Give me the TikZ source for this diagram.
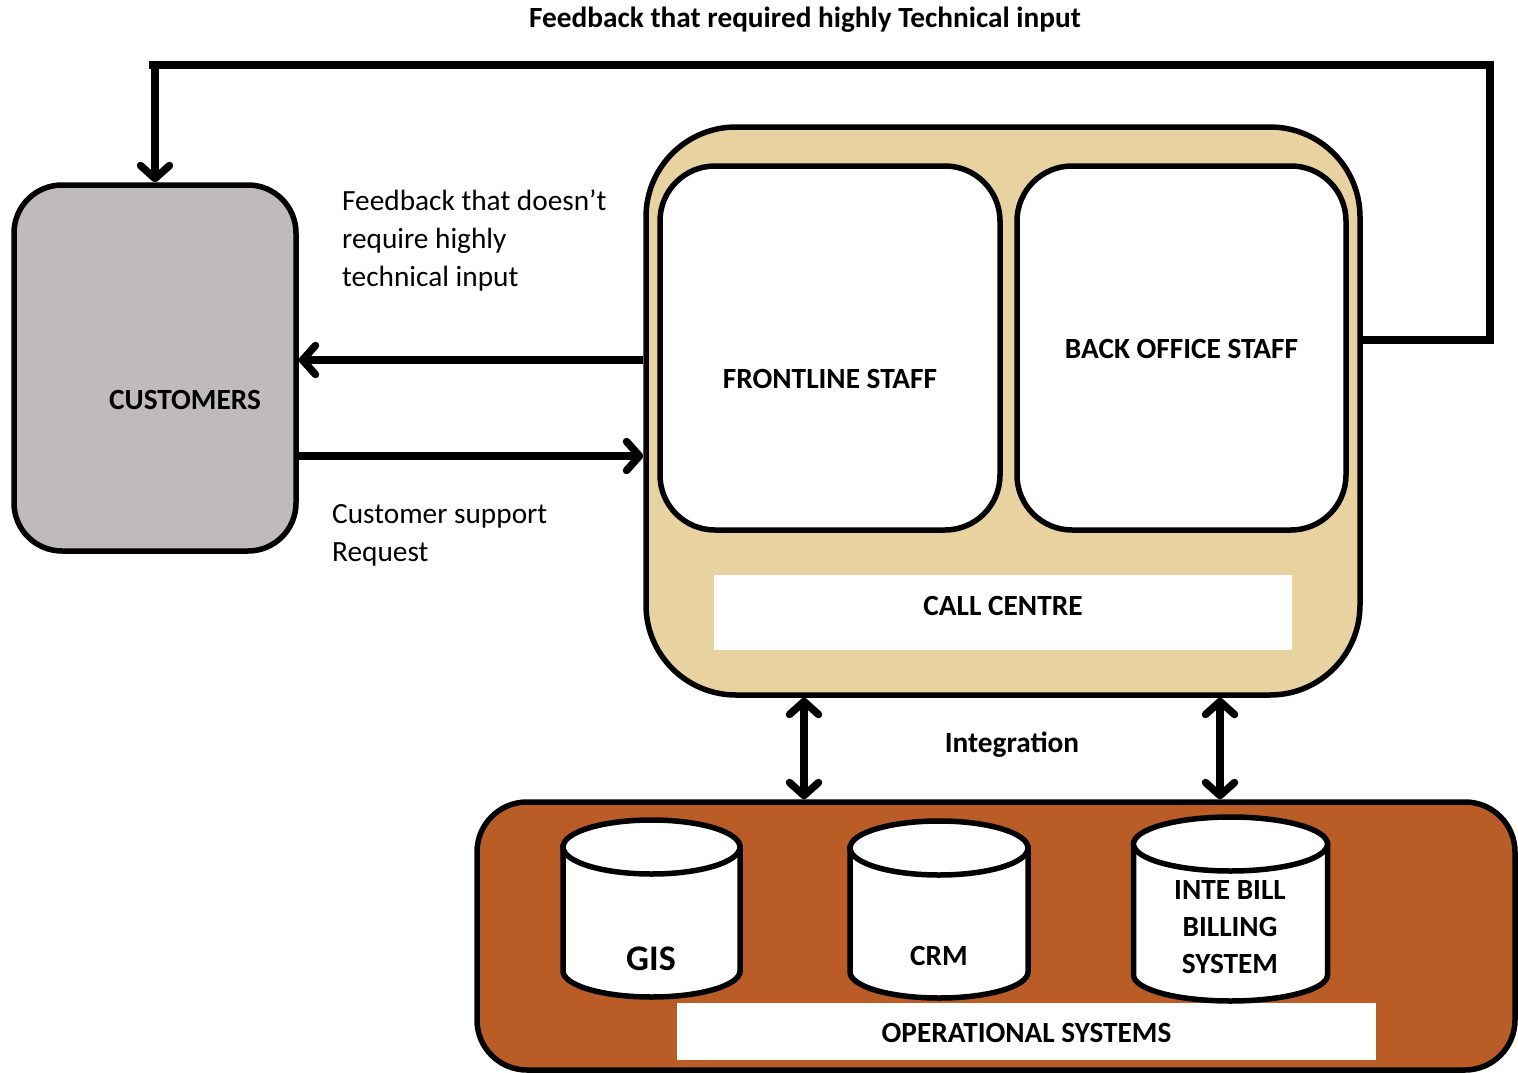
\documentclass[tikz,border=0pt]{standalone}
\usepackage{fontspec}
\setmainfont{Carlito}
\usetikzlibrary{arrows.meta}
\definecolor{custgray}{HTML}{C0BBBA}
\definecolor{cctan}{HTML}{E8D3A0}
\definecolor{rust}{HTML}{B95C26}
\newcommand\dbcyl[4]{%
  \filldraw[cyl] (#1-#2,#3) -- (#1-#2,#4) arc[start angle=180,end angle=360,x radius=#2pt,y radius=26pt] -- (#1+#2,#3) -- cycle;
  \filldraw[cyl] (#1,#3) ellipse[x radius=#2pt, y radius=27pt];}
\begin{document}
\begin{tikzpicture}[x=1pt,y=-1pt,
  every node/.style={font=\fontsize{29.3}{38}\selectfont, inner sep=0pt},
  box/.style={draw=black, line width=5.5pt, rounded corners=#1},
  lbl/.style={font=\fontsize{29.3}{38}\selectfont\bfseries},
  cyl/.style={draw=black, fill=white, line width=5.5pt},
  line/.style={line width=7.5pt},
  conn/.style={line width=7.5pt, -{Straight Barb[length=13pt,width=29pt,round]}},
  dconn/.style={line width=7.5pt, {Straight Barb[length=13pt,width=29pt,round]}-{Straight Barb[length=13pt,width=29pt,round]}},
]
\useasboundingbox (0,0) rectangle (1518,1073);
% boxes
\node[box=48pt, fill=custgray, minimum width=282pt, minimum height=366pt] (cust) at (155,368) {};
\node[lbl] (tcust) at (185,400) {CUSTOMERS};
\node[box=90pt, fill=cctan, minimum width=714pt, minimum height=568pt] (cc) at (1003,411) {};
\node[box=55pt, fill=white, minimum width=340pt, minimum height=364pt] (front) at (830,348) {};
\node[lbl] (tfront) at (830,379) {FRONTLINE STAFF};
\node[box=55pt, fill=white, minimum width=329pt, minimum height=364pt] (back) at (1181.5,348) {};
\node[lbl] (tback) at (1181.5,349) {BACK OFFICE STAFF};
\node[fill=white, minimum width=578pt, minimum height=75pt] (ccl) at (1003,612.5) {};
\node[lbl] (tcc) at (1003,606) {CALL CENTRE};
\node[box=50pt, fill=rust, minimum width=1038pt, minimum height=268pt] (ops) at (996,936) {};
\node[fill=white, minimum width=699pt, minimum height=57pt] (opsl) at (1026.5,1031.5) {};
\node[lbl] (tops) at (1026.5,1033) {OPERATIONAL SYSTEMS};
% cylinders
\dbcyl{651.5}{88.5}{847}{971}
\dbcyl{939}{89}{848}{972}
\dbcyl{1230.5}{97}{844}{975}
\node[font=\fontsize{36}{40}\selectfont\bfseries] (tgis) at (651,959) {GIS};
\node[lbl] (tcrm) at (939,956) {CRM};
\node[lbl, align=center, font=\fontsize{29.3}{37}\selectfont\bfseries] (tbill) at (1230,927) {INTE BILL\\BILLING\\SYSTEM};
% labels
\node[lbl] (ttop) at (805,20) {Feedback that required highly Technical input};
\node[anchor=west, align=left] (tfb) at (342,241) {Feedback that doesn’t\\require highly\\technical input};
\node[anchor=west, align=left] (treq) at (332,535) {Customer support\\Request};
\node[lbl] (tint) at (1012,745) {Integration};
% connectors
\coordinate (tl) at (149,65);
\coordinate (tr) at (1490,65);
\coordinate (br) at (1490,340);
\coordinate (drop) at (155,65);
\coordinate (yfb) at (0,360);
\coordinate (yreq) at (0,456);
\coordinate (i1) at (804,750);
\coordinate (i2) at (1220,750);
\draw[line] (cc.east |- br) -- (br) -- (tr) -- (tl);
\draw[conn] (drop) -- (drop |- cust.north);
\draw[conn] (cc.west |- yfb) -- (cust.east |- yfb);
\draw[conn] (cust.east |- yreq) -- (cc.west |- yreq);
\draw[dconn] (i1 |- cc.south) -- (i1 |- ops.north);
\draw[dconn] (i2 |- cc.south) -- (i2 |- ops.north);
\end{tikzpicture}
\end{document}
